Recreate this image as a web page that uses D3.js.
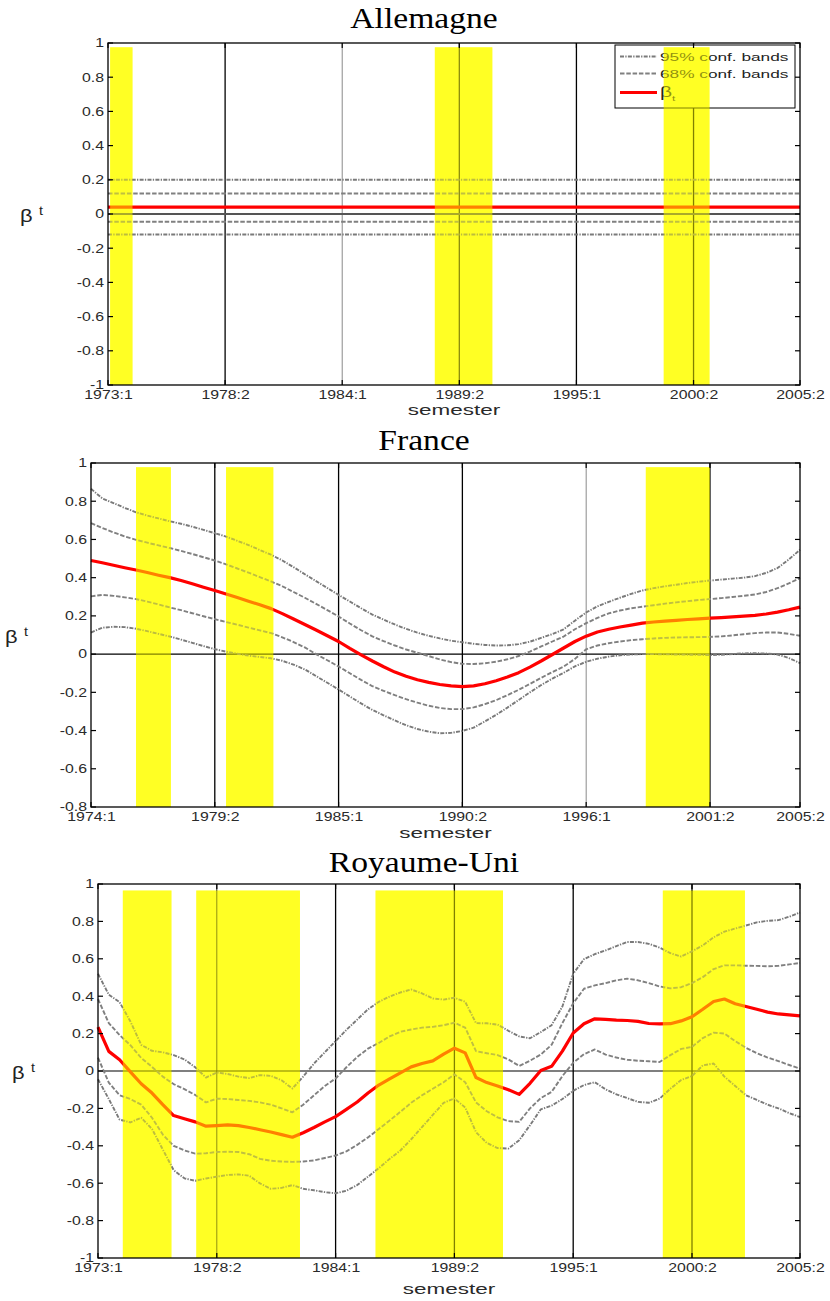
<!DOCTYPE html>
<html>
<head>
<meta charset="utf-8">
<script src="https://cdn.jsdelivr.net/npm/d3@7"></script>
<style>
  html, body { margin: 0; padding: 0; background: #ffffff; }
  svg { display: block; }
</style>
</head>
<body>
<svg id="fig" width="830" height="1301"></svg>
<script>
// ---------------------------------------------------------------
// Time-varying coefficient beta_t with 68% / 95% confidence bands,
// semester data, three countries. Recession periods shaded yellow.
// x values are semester indices counted from the first semester.
// ---------------------------------------------------------------

// Common y ticks
const yTicksFull = [-1, -0.8, -0.6, -0.4, -0.2, 0, 0.2, 0.4, 0.6, 0.8, 1];
const yTicksFrance = [-0.8, -0.6, -0.4, -0.2, 0, 0.2, 0.4, 0.6, 0.8, 1];

// ---- Allemagne (1973:1 - 2005:2), constant estimate ----
const deTickIdx = [0, 11, 22, 33, 44, 55, 65];
const deTickLabels = ["1973:1", "1978:2", "1984:1", "1989:2", "1995:1", "2000:2", "2005:2"];
const deSemesters = [0, 65];
const deBeta = [0.04, 0.04];
const deUpper95 = [0.20, 0.20];
const deLower95 = [-0.12, -0.12];
const deUpper68 = [0.12, 0.12];
const deLower68 = [-0.045, -0.045];
const deRecessions = [[0.2, 2.3], [30.7, 36.1], [52.2, 56.5]];

// ---- France (1974:1 - 2005:2) ----
const frTickIdx = [0, 11, 22, 33, 44, 55, 63];
const frTickLabels = ["1974:1", "1979:2", "1985:1", "1990:2", "1996:1", "2001:2", "2005:2"];
const frBeta = [0.490,0.478,0.465,0.452,0.440,0.427,0.413,0.400,0.385,0.368,
  0.350,0.333,0.315,0.296,0.277,0.258,0.238,0.212,0.184,0.155,
  0.126,0.096,0.066,0.030,-0.004,-0.036,-0.066,-0.094,-0.116,-0.134,
  -0.148,-0.159,-0.166,-0.170,-0.166,-0.155,-0.139,-0.120,-0.097,-0.068,
  -0.036,-0.002,0.032,0.066,0.094,0.116,0.130,0.142,0.152,0.162,
  0.168,0.173,0.177,0.181,0.184,0.188,0.191,0.195,0.199,0.203,
  0.210,0.220,0.232,0.246];
const frUpper95 = [0.865,0.815,0.790,0.765,0.742,0.725,0.710,0.695,0.682,0.667,
  0.650,0.633,0.615,0.593,0.570,0.545,0.520,0.490,0.455,0.418,
  0.382,0.346,0.310,0.275,0.240,0.207,0.180,0.155,0.132,0.112,
  0.096,0.082,0.070,0.062,0.054,0.048,0.045,0.046,0.052,0.065,
  0.085,0.105,0.130,0.175,0.218,0.250,0.273,0.295,0.315,0.333,
  0.345,0.355,0.363,0.372,0.379,0.385,0.390,0.395,0.400,0.408,
  0.425,0.450,0.495,0.546];
const frUpper68 = [0.686,0.660,0.637,0.616,0.598,0.583,0.569,0.555,0.540,0.524,
  0.507,0.490,0.470,0.448,0.426,0.403,0.380,0.355,0.325,0.295,
  0.263,0.230,0.197,0.160,0.125,0.093,0.068,0.045,0.024,0.007,
  -0.010,-0.028,-0.042,-0.051,-0.052,-0.048,-0.040,-0.027,-0.010,0.013,
  0.040,0.066,0.092,0.130,0.162,0.190,0.213,0.228,0.240,0.248,
  0.256,0.264,0.271,0.277,0.283,0.288,0.293,0.299,0.305,0.312,
  0.325,0.345,0.370,0.398];
const frLower68 = [0.302,0.310,0.305,0.297,0.288,0.275,0.260,0.244,0.230,0.214,
  0.198,0.183,0.168,0.154,0.139,0.124,0.110,0.088,0.063,0.035,
  0.000,-0.032,-0.065,-0.100,-0.135,-0.168,-0.192,-0.215,-0.236,-0.254,
  -0.270,-0.282,-0.288,-0.288,-0.279,-0.262,-0.241,-0.215,-0.187,-0.156,
  -0.124,-0.094,-0.065,-0.025,0.025,0.045,0.057,0.066,0.073,0.078,
  0.082,0.085,0.087,0.088,0.089,0.090,0.093,0.098,0.104,0.110,
  0.113,0.113,0.106,0.096];
const frLower95 = [0.113,0.138,0.143,0.141,0.133,0.120,0.106,0.092,0.076,0.059,
  0.042,0.026,0.013,0.002,-0.008,-0.015,-0.022,-0.035,-0.055,-0.080,
  -0.115,-0.150,-0.185,-0.222,-0.258,-0.292,-0.320,-0.347,-0.372,-0.392,
  -0.406,-0.414,-0.412,-0.402,-0.385,-0.352,-0.318,-0.280,-0.240,-0.200,
  -0.162,-0.128,-0.098,-0.064,-0.040,-0.024,-0.013,-0.006,-0.002,0.000,
  0.000,-0.001,-0.002,-0.003,-0.004,-0.005,-0.003,0.000,0.004,0.005,
  0.003,-0.002,-0.020,-0.047];
const frRecessions = [[4.0, 7.1], [12.0, 16.2], [49.3, 55.0]];

// ---- Royaume-Uni (1973:1 - 2005:2) ----
const ukTickIdx = [0, 11, 22, 33, 44, 55, 65];
const ukTickLabels = ["1973:1", "1978:2", "1984:1", "1989:2", "1995:1", "2000:2", "2005:2"];
const ukBeta = [0.235,0.105,0.060,-0.005,-0.068,-0.118,-0.180,-0.238,-0.255,-0.272,
  -0.295,-0.292,-0.288,-0.292,-0.302,-0.314,-0.326,-0.340,-0.354,-0.330,
  -0.302,-0.272,-0.244,-0.205,-0.166,-0.118,-0.075,-0.042,-0.010,0.022,
  0.040,0.054,0.090,0.122,0.097,-0.035,-0.062,-0.080,-0.100,-0.125,
  -0.066,0.003,0.025,0.106,0.203,0.253,0.279,0.276,0.272,0.270,
  0.265,0.254,0.252,0.253,0.268,0.290,0.330,0.372,0.385,0.360,
  0.345,0.330,0.315,0.305,0.300,0.295];
const ukUpper95 = [0.520,0.408,0.368,0.265,0.140,0.108,0.100,0.085,0.062,0.020,
  -0.035,-0.008,-0.016,-0.030,-0.038,-0.022,-0.026,-0.050,-0.094,-0.030,
  0.040,0.100,0.160,0.220,0.275,0.330,0.370,0.398,0.420,0.436,
  0.415,0.388,0.382,0.392,0.370,0.256,0.255,0.248,0.215,0.185,
  0.175,0.208,0.245,0.345,0.520,0.598,0.625,0.645,0.668,0.690,
  0.690,0.680,0.660,0.630,0.612,0.640,0.672,0.715,0.745,0.762,
  0.778,0.795,0.803,0.807,0.825,0.848];
const ukUpper68 = [0.385,0.256,0.192,0.138,0.070,0.022,-0.030,-0.070,-0.097,-0.128,
  -0.168,-0.148,-0.150,-0.155,-0.160,-0.168,-0.180,-0.200,-0.221,-0.180,
  -0.130,-0.080,-0.040,0.020,0.075,0.120,0.150,0.185,0.210,0.222,
  0.232,0.236,0.245,0.258,0.232,0.106,0.095,0.085,0.062,0.027,
  0.055,0.088,0.140,0.256,0.362,0.440,0.458,0.470,0.485,0.494,
  0.485,0.470,0.452,0.442,0.448,0.470,0.502,0.545,0.565,0.565,
  0.563,0.562,0.560,0.562,0.570,0.578];
const ukLower68 = [0.071,-0.062,-0.130,-0.150,-0.180,-0.250,-0.340,-0.400,-0.425,-0.442,
  -0.440,-0.433,-0.432,-0.433,-0.445,-0.470,-0.480,-0.484,-0.486,-0.484,
  -0.478,-0.465,-0.452,-0.430,-0.395,-0.355,-0.310,-0.265,-0.218,-0.170,
  -0.130,-0.095,-0.060,-0.018,-0.060,-0.168,-0.215,-0.248,-0.268,-0.272,
  -0.200,-0.145,-0.112,-0.027,0.044,0.090,0.115,0.088,0.072,0.060,
  0.055,0.052,0.048,0.085,0.118,0.129,0.176,0.205,0.200,0.160,
  0.124,0.095,0.072,0.053,0.032,0.012];
const ukLower95 = [-0.044,-0.150,-0.260,-0.275,-0.250,-0.310,-0.420,-0.530,-0.574,-0.587,
  -0.575,-0.565,-0.556,-0.553,-0.560,-0.601,-0.630,-0.625,-0.610,-0.630,
  -0.638,-0.648,-0.654,-0.640,-0.610,-0.565,-0.520,-0.470,-0.425,-0.365,
  -0.300,-0.235,-0.170,-0.147,-0.195,-0.327,-0.385,-0.412,-0.415,-0.370,
  -0.290,-0.205,-0.185,-0.150,-0.106,-0.075,-0.060,-0.098,-0.125,-0.145,
  -0.165,-0.170,-0.148,-0.095,-0.048,-0.027,0.030,0.040,-0.030,-0.080,
  -0.130,-0.155,-0.180,-0.200,-0.225,-0.247];
const ukRecessions = [[2.3, 6.8], [9.1, 18.7], [25.7, 37.5], [52.3, 59.9]];

// Legend entries
const legendLabels = ["95% conf. bands", "68% conf. bands", "\u03B2"];

// ---------------------------------------------------------------
// Styles
// ---------------------------------------------------------------
const SANS = "'Liberation Sans', Arial, Helvetica, sans-serif";
const SERIF = "'Liberation Serif', 'Times New Roman', serif";
const TEXT_SX = 1.32;          // horizontal stretch of sans-serif text
const BAND_BASE = "#ffff48";   // shading under the curves
const BAND_TINT = "#ffff00";   // translucent tint over the curves
const lineStyle = {
  beta:  { stroke: "#ff0000", width: 3.2, dash: null },
  b95:   { stroke: "#7a7a7a", width: 1.9, dash: "4,1.3,1.3,1.3" },
  b68:   { stroke: "#808080", width: 1.9, dash: "4.5,1.8" }
};

const svg = d3.select("#fig");
const defs = svg.append("defs");
const fmtY = d => String(Math.round(d * 10) / 10);

const panels = [
  {
    id: "de", title: "Allemagne",
    box: { left: 108, right: 800, top: 43, bottom: 385 },
    yDomain: [-1, 1], yTicks: yTicksFull, xMax: 65,
    tickIdx: deTickIdx, tickLabels: deTickLabels,
    xs: deSemesters,
    series: { beta: deBeta, u95: deUpper95, l95: deLower95, u68: deUpper68, l68: deLower68 },
    recessions: deRecessions, bandTop: 0.975,
    gridColors: ["#000", "#8a8a8a", "#1a1a1a", "#000", "#000"],
    gridWidths: [1.3, 1, 1.3, 1.3, 1.3],
    zero: { stroke: "#555", width: 2 },
    titleY: 28, semesterY: 415, betaX: 20, legend: true
  },
  {
    id: "fr", title: "France",
    box: { left: 91, right: 800, top: 463, bottom: 807 },
    yDomain: [-0.8, 1], yTicks: yTicksFrance, xMax: 63,
    tickIdx: frTickIdx, tickLabels: frTickLabels,
    xs: d3.range(frBeta.length),
    series: { beta: frBeta, u95: frUpper95, l95: frLower95, u68: frUpper68, l68: frLower68 },
    recessions: frRecessions, bandTop: 0.978,
    gridColors: ["#000", "#000", "#000", "#8a8a8a", "#000"],
    gridWidths: [1.3, 1.3, 1.3, 1, 1.3],
    zero: { stroke: "#000", width: 1.2 },
    titleY: 450, semesterY: 838, betaX: 5, legend: false
  },
  {
    id: "uk", title: "Royaume-Uni",
    box: { left: 98, right: 800, top: 884, bottom: 1258 },
    yDomain: [-1, 1], yTicks: yTicksFull, xMax: 65,
    tickIdx: ukTickIdx, tickLabels: ukTickLabels,
    xs: d3.range(ukBeta.length),
    series: { beta: ukBeta, u95: ukUpper95, l95: ukLower95, u68: ukUpper68, l68: ukLower68 },
    recessions: ukRecessions, bandTop: 0.965,
    gridColors: ["#222", "#000", "#000", "#000", "#000"],
    gridWidths: [1, 1.3, 1.3, 1.3, 1.3],
    zero: { stroke: "#000", width: 1.2 },
    titleY: 872, semesterY: 1294, betaX: 12, legend: false
  }
];

function stretchedText(parent, x, y, txt, opts) {
  const t = parent.append("text")
    .attr("transform", `translate(${x},${y}) scale(${opts.sx || 1},1)`)
    .attr("font-family", opts.family || SANS)
    .attr("font-size", opts.size)
    .attr("fill", opts.fill || "#222")
    .attr("text-anchor", opts.anchor || "start");
  if (txt !== null) t.text(txt);
  return t;
}

function drawPanel(p) {
  const g = svg.append("g").attr("class", "panel-" + p.id);
  const { left, right, top, bottom } = p.box;
  const x = d3.scaleLinear().domain([0, p.xMax]).range([left, right]);
  const y = d3.scaleLinear().domain(p.yDomain).range([bottom, top]);

  const drawBands = (sel, fill, opacity) => sel.selectAll("rect")
    .data(p.recessions).join("rect")
    .attr("x", d => x(d[0]))
    .attr("width", d => x(d[1]) - x(d[0]))
    .attr("y", y(p.bandTop))
    .attr("height", bottom - y(p.bandTop))
    .attr("fill", fill)
    .attr("fill-opacity", opacity);

  // recession shading (underlay)
  drawBands(g.append("g"), BAND_BASE, 1);

  // vertical grid lines at the interior x ticks
  const inner = p.tickIdx.slice(1, -1);
  g.append("g").selectAll("line").data(inner).join("line")
    .attr("x1", d => x(d)).attr("x2", d => x(d))
    .attr("y1", top).attr("y2", bottom)
    .attr("stroke", (d, i) => p.gridColors[i])
    .attr("stroke-width", (d, i) => p.gridWidths[i]);

  // zero line
  g.append("line")
    .attr("x1", left).attr("x2", right)
    .attr("y1", y(0)).attr("y2", y(0))
    .attr("stroke", p.zero.stroke).attr("stroke-width", p.zero.width);

  // curves
  const line = d3.line().x((d, i) => x(p.xs[i])).y(d => y(d));
  const curves = [
    [p.series.u95, lineStyle.b95], [p.series.l95, lineStyle.b95],
    [p.series.u68, lineStyle.b68], [p.series.l68, lineStyle.b68],
    [p.series.beta, lineStyle.beta]
  ];
  g.append("g").selectAll("path").data(curves).join("path")
    .attr("d", d => line(d[0]))
    .attr("fill", "none")
    .attr("stroke", d => d[1].stroke)
    .attr("stroke-width", d => d[1].width)
    .attr("stroke-dasharray", d => d[1].dash)
    .attr("stroke-linejoin", "round");

  // legend
  if (p.legend) {
    const lb = { x: 615, y: 45, w: 180, h: 63 };
    const lg = g.append("g").attr("class", "legend");
    lg.append("rect").attr("x", lb.x).attr("y", lb.y).attr("width", lb.w).attr("height", lb.h)
      .attr("fill", "#fff");
    const clipId = "clip-legend-" + p.id;
    defs.append("clipPath").attr("id", clipId).append("rect")
      .attr("x", lb.x).attr("y", lb.y).attr("width", lb.w).attr("height", lb.h);
    drawBands(lg.append("g").attr("clip-path", `url(#${clipId})`), BAND_BASE, 1);
    lg.append("rect").attr("x", lb.x).attr("y", lb.y).attr("width", lb.w).attr("height", lb.h)
      .attr("fill", "none").attr("stroke", "#000").attr("stroke-width", 1);
    const rowsY = [lb.y + 11.5, lb.y + 28.5, lb.y + 47.5];
    const rowStyles = [lineStyle.b95, lineStyle.b68, lineStyle.beta];
    rowStyles.forEach((st, i) => {
      lg.append("line")
        .attr("x1", lb.x + 5).attr("x2", lb.x + 42)
        .attr("y1", rowsY[i]).attr("y2", rowsY[i])
        .attr("stroke", st.stroke).attr("stroke-width", st.width)
        .attr("stroke-dasharray", st.dash);
      const t = stretchedText(lg, lb.x + 45, rowsY[i] + 4, null, { size: 11.5, sx: 1.5, fill: "#222" });
      t.append("tspan").attr("font-size", i === 2 ? 14 : 11.5).text(legendLabels[i]);
      if (i === 2) {
        t.append("tspan").attr("dy", 4).attr("font-size", 8).text("t");
      }
    });
  }

  // recession tint over everything drawn so far
  drawBands(g.append("g"), BAND_TINT, 0.5);

  // frame
  g.append("rect")
    .attr("x", left).attr("y", top)
    .attr("width", right - left).attr("height", bottom - top)
    .attr("fill", "none").attr("stroke", "#000").attr("stroke-width", 1.3);

  // inward tick marks
  const tk = 5;
  const tg = g.append("g").attr("stroke", "#000").attr("stroke-width", 1.2);
  p.yTicks.forEach(v => {
    tg.append("line").attr("x1", left).attr("x2", left + tk).attr("y1", y(v)).attr("y2", y(v));
    tg.append("line").attr("x1", right - tk).attr("x2", right).attr("y1", y(v)).attr("y2", y(v));
  });
  p.tickIdx.forEach(v => {
    tg.append("line").attr("x1", x(v)).attr("x2", x(v)).attr("y1", bottom).attr("y2", bottom - tk);
    tg.append("line").attr("x1", x(v)).attr("x2", x(v)).attr("y1", top).attr("y2", top + tk);
  });

  // y axis labels
  const ya = g.append("g").attr("transform", `translate(${left},0)`)
    .call(d3.axisLeft(y).tickValues(p.yTicks).tickSize(0).tickPadding(4).tickFormat(fmtY));
  ya.select(".domain").remove();
  ya.attr("font-family", SANS).attr("font-size", 12);
  ya.selectAll("text").attr("fill", "#2a2a2a")
    .attr("x", -4 / TEXT_SX).attr("transform", `scale(${TEXT_SX},1)`);

  // x axis labels
  const xa = g.append("g").attr("transform", `translate(0,${bottom})`)
    .call(d3.axisBottom(x).tickValues(p.tickIdx).tickSize(0).tickPadding(5)
      .tickFormat((d, i) => p.tickLabels[i]));
  xa.select(".domain").remove();
  xa.attr("font-family", SANS).attr("font-size", 12);
  xa.selectAll("text").attr("fill", "#2a2a2a").attr("transform", `scale(${TEXT_SX},1)`);

  // axis titles
  stretchedText(g, (left + right) / 2, p.semesterY, "semester",
    { size: 15.5, sx: 1.45, anchor: "middle", fill: "#2a2a2a" });
  const mid = (top + bottom) / 2;
  stretchedText(g, p.betaX, mid + 8, "\u03B2", { size: 19, sx: 1.15, fill: "#222" });
  stretchedText(g, p.betaX + 19, mid + 1, "t", { size: 12, sx: 1.2, fill: "#222" });

  // panel title
  stretchedText(g, 424, p.titleY, p.title,
    { family: SERIF, size: 30, sx: 1.12, anchor: "middle", fill: "#000" });
}

panels.forEach(drawPanel);
</script>
</body>
</html>
